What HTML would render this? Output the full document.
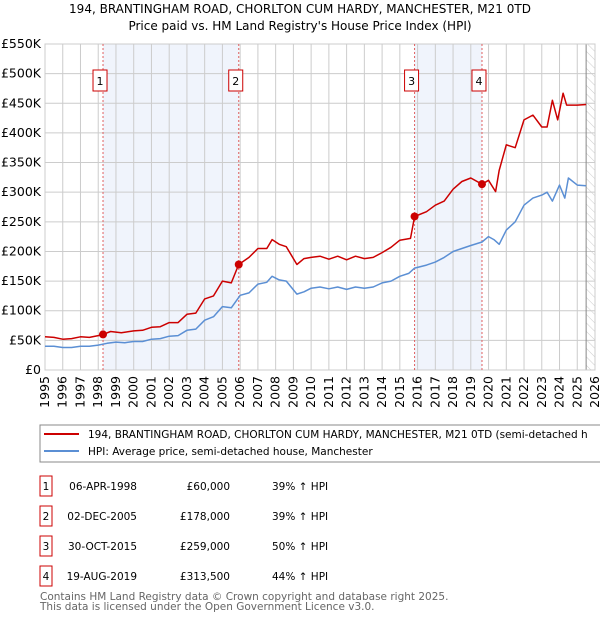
<!DOCTYPE html>
<html><head><meta charset="utf-8"><style>
body{margin:0;background:#fff;font-family:"Liberation Sans","DejaVu Sans",sans-serif;}
svg text{font-family:"DejaVu Sans","Liberation Sans",sans-serif;}
</style></head><body>
<svg id="c" width="600" height="620" viewBox="0 0 600 620" xmlns="http://www.w3.org/2000/svg">
<text x="300" y="13" text-anchor="middle" font-size="12">194, BRANTINGHAM ROAD, CHORLTON CUM HARDY, MANCHESTER, M21 0TD</text>
<text x="300" y="30" text-anchor="middle" font-size="12">Price paid vs. HM Land Registry's House Price Index (HPI)</text>
<g id="plot"></g>
<g>
<rect x="40" y="425" width="570" height="37" fill="#fff" stroke="#888"/>
<line x1="44" y1="434" x2="79" y2="434" stroke="#cc0000" stroke-width="2"/>
<text x="88" y="438" font-size="10.5">194, BRANTINGHAM ROAD, CHORLTON CUM HARDY, MANCHESTER, M21 0TD (semi-detached h</text>
<line x1="44" y1="451" x2="79" y2="451" stroke="#5b8fd4" stroke-width="2"/>
<text x="88" y="455" font-size="10.5">HPI: Average price, semi-detached house, Manchester</text>
</g>
<g id="table" font-size="10.5"></g>
<text x="40" y="600" font-size="10.5" fill="#666">Contains HM Land Registry data © Crown copyright and database right 2025.</text>
<text x="40" y="610" font-size="10.5" fill="#666">This data is licensed under the Open Government Licence v3.0.</text>
</svg>
<script>
const hpiYears=[1995,1995.5,1996,1996.5,1997,1997.5,1998,1998.5,1999,1999.5,2000,2000.5,2001,2001.5,2002,2002.5,2003,2003.5,2004,2004.5,2005,2005.5,2006,2006.5,2007,2007.5,2007.8,2008.2,2008.6,2009.2,2009.6,2010,2010.5,2011,2011.5,2012,2012.5,2013,2013.5,2014,2014.5,2015,2015.5,2015.83,2016.5,2017,2017.5,2018,2018.5,2019,2019.63,2020,2020.3,2020.6,2021,2021.5,2022,2022.5,2023,2023.3,2023.6,2024,2024.3,2024.5,2025,2025.5];
const hpiValues=[40,40,38,38,40,40,42,45,47,46,48,48,52,53,57,58,67,69,84,90,107,105,126,130,145,148,158,152,150,128,132,138,140,137,140,136,140,138,140,147,150,158,163,172,177,182,190,200,205,210,216,225,220,212,236,250,278,290,295,300,285,312,290,324,312,311];
const redYears=[1995,1995.5,1996,1996.5,1997,1997.5,1998,1998.27,1998.7,1999.3,2000,2000.5,2001,2001.5,2002,2002.5,2003,2003.5,2004,2004.5,2005,2005.5,2005.92,2006.5,2007,2007.5,2007.8,2008.2,2008.6,2009.2,2009.6,2010,2010.5,2011,2011.5,2012,2012.5,2013,2013.5,2014,2014.5,2015,2015.6,2015.83,2016.5,2017,2017.5,2018,2018.5,2019,2019.63,2020,2020.4,2020.6,2021,2021.5,2022,2022.5,2023,2023.3,2023.6,2023.9,2024.2,2024.4,2025,2025.5];
const redValues=[56,55,52,53,56,55,58,60,65,63,66,67,72,73,80,80,94,96,120,125,150,147,178,190,205,205,220,212,208,178,188,190,192,187,192,186,192,188,190,198,207,219,222,259,267,278,285,305,318,324,313.5,320,301,337,380,375,422,430,410,410,455,422,467,447,447,448];
const saleDates=[1998.27,2005.92,2015.83,2019.63];
const salePrices=[60,178,259,313.5];
const saleLabels=["06-APR-1998","02-DEC-2005","30-OCT-2015","19-AUG-2019"];
const salePriceText=["£60,000","£178,000","£259,000","£313,500"];
const saleHpiText=["39% ↑ HPI","39% ↑ HPI","50% ↑ HPI","44% ↑ HPI"];
const yTicks=[0,50,100,150,200,250,300,350,400,450,500,550];
const xTicks=[1995,1996,1997,1998,1999,2000,2001,2002,2003,2004,2005,2006,2007,2008,2009,2010,2011,2012,2013,2014,2015,2016,2017,2018,2019,2020,2021,2022,2023,2024,2025,2026];

const NS="http://www.w3.org/2000/svg";
const X0=45,X1=595,Y0=370,Y1=44;
const xs=y=>X0+(y-1995)/(2026-1995)*(X1-X0);
const ys=v=>Y0-v/550*(Y0-Y1);
const g=document.getElementById('plot');
function mk(tag,attrs,parent){const e=document.createElementNS(NS,tag);for(const k in attrs)e.setAttribute(k,attrs[k]);(parent||g).appendChild(e);return e;}

for(let i=0;i<saleDates.length;i+=2){
 const r=mk('rect',{x:xs(saleDates[i]),y:Y1,width:xs(saleDates[i+1])-xs(saleDates[i]),height:Y0-Y1,fill:'#f0f4fc'});
 
 
}
const defs=mk('defs',{});
const pat=mk('pattern',{id:'h',width:6,height:6,patternUnits:'userSpaceOnUse',patternTransform:'rotate(-45)'},defs);
mk('line',{x1:0,y1:0,x2:0,y2:6,stroke:'#ccc','stroke-width':1},pat);
const hr=mk('rect',{x:xs(2025.5),y:Y1,width:X1-xs(2025.5),height:Y0-Y1,fill:'url(#h)'});


yTicks.forEach(v=>{
 const l=mk('line',{x1:X0,x2:X1,y1:ys(v),y2:ys(v),stroke:'#ccc'});
 
 
 const t=mk('text',{x:X0-4,y:ys(v)+4,'text-anchor':'end','font-size':12.5});
 t.textContent=v===0?'£0':'£'+v+'K';
 
 
});
xTicks.forEach(y=>{
 const l=mk('line',{x1:xs(y),x2:xs(y),y1:Y1,y2:Y0,stroke:'#ccc'});
 
 
 const t=mk('text',{x:0,y:0,'text-anchor':'end','font-size':12.5,transform:`translate(${xs(y)+4},${Y0+6}) rotate(-90)`});
 t.textContent=y;
 
 
});
const vl=mk('line',{x1:xs(2025.5),x2:xs(2025.5),y1:Y1,y2:Y0,stroke:'#888'});


const fr=mk('rect',{x:X0,y:Y1,width:X1-X0,height:Y0-Y1,fill:'none',stroke:'#ccc'});


saleDates.forEach((d,i)=>{
 const l=mk('line',{x1:xs(d),x2:xs(d),y1:Y1,y2:Y0,stroke:'#e06060','stroke-dasharray':'2,2'});
 
 
 const cx=xs(d)-3;
 const b=mk('rect',{x:cx-7,y:70,width:14,height:21,fill:'#fff',stroke:'#cc0000'});
 
 
 const t=mk('text',{x:cx,y:85,'text-anchor':'middle','font-size':11});
 t.textContent=i+1;
 
 
});
function line(xa,va,color,name){
 const p=mk('path',{d:xa.map((x,i)=>(i?'L':'M')+xs(x).toFixed(1)+','+ys(va[i]).toFixed(1)).join(''),fill:'none',stroke:color,'stroke-width':1.5,'stroke-linejoin':'round'});
 
 
}
line(hpiYears,hpiValues,'#5b8fd4','hpi-line');
line(redYears,redValues,'#cc0000','property-price-line');
saleDates.forEach((d,i)=>{
 const c=mk('circle',{cx:xs(d),cy:ys(salePrices[i]),r:4,fill:'#cc0000'});
 
 
});
const tb=document.getElementById('table');
saleDates.forEach((d,i)=>{
 const y=476+i*30;
 const b=mk('rect',{x:40,y:y,width:12,height:20,fill:'#fff',stroke:'#cc0000'},tb);
 
 
 const cells=[[46,'middle',String(i+1)],[137,'end',saleLabels[i]],[230,'end',salePriceText[i]],[272,'start',saleHpiText[i]]];
 cells.forEach(c=>{
  const t=mk('text',{x:c[0],y:y+14,'text-anchor':c[1]},tb);
  t.textContent=c[2];
  
  
 });
});
</script>
</body></html>
